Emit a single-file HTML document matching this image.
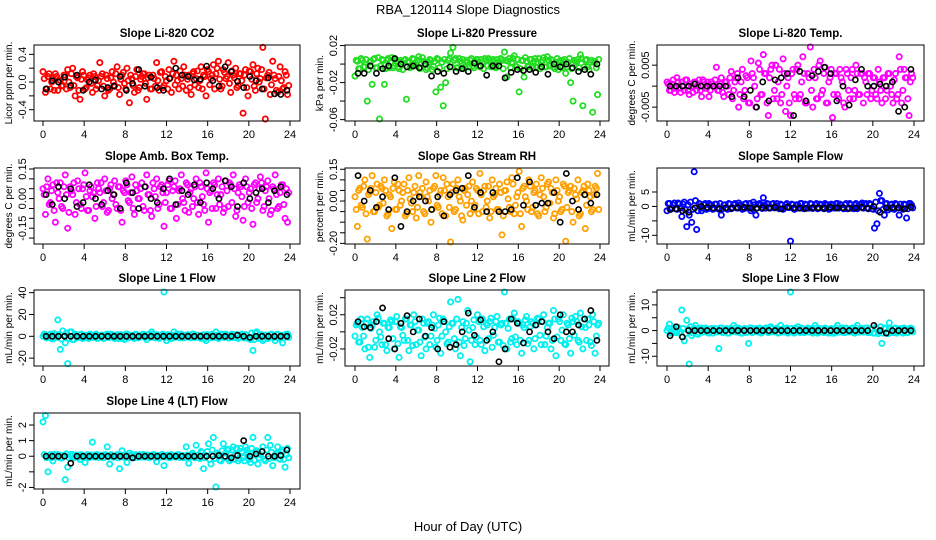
<!DOCTYPE html>
<html><head><meta charset="utf-8"><style>
html,body{margin:0;padding:0;background:#fff}
svg{display:block;font-family:"Liberation Sans",sans-serif}
</style></head><body>
<svg id="chart" width="936" height="540" viewBox="0 0 936 540">
<text x="468" y="14" text-anchor="middle" font-size="13">RBA_120114  Slope Diagnostics</text>
<text x="468" y="531" text-anchor="middle" font-size="13">Hour of Day (UTC)</text>
</svg>
<script>
const xTicks=[0,4,8,12,16,20,24];
const hours=[0,0.24,0.48,0.72,0.96,1.2,1.44,1.68,1.92,2.16,2.4,2.64,2.88,3.12,3.36,3.6,3.84,4.08,4.32,4.56,4.8,5.04,5.28,5.52,5.76,6,6.24,6.48,6.72,6.96,7.2,7.44,7.68,7.92,8.16,8.4,8.64,8.88,9.12,9.36,9.6,9.84,10.08,10.32,10.56,10.8,11.04,11.28,11.52,11.76,12,12.24,12.48,12.72,12.96,13.2,13.44,13.68,13.92,14.16,14.4,14.64,14.88,15.12,15.36,15.6,15.84,16.08,16.32,16.56,16.8,17.04,17.28,17.52,17.76,18,18.24,18.48,18.72,18.96,19.2,19.44,19.68,19.92,20.16,20.4,20.64,20.88,21.12,21.36,21.6,21.84,22.08,22.32,22.56,22.8,23.04,23.28,23.52,23.76];
const hoursAlt=[0.12,0.36,0.6,0.84,1.08,1.32,1.56,1.8,2.04,2.28,2.52,2.76,3,3.24,3.48,3.72,3.96,4.2,4.44,4.68,4.92,5.16,5.4,5.64,5.88,6.12,6.36,6.6,6.84,7.08,7.32,7.56,7.8,8.04,8.28,8.52,8.76,9,9.24,9.48,9.72,9.96,10.2,10.44,10.68,10.92,11.16,11.4,11.64,11.88,12.12,12.36,12.6,12.84,13.08,13.32,13.56,13.8,14.04,14.28,14.52,14.76,15,15.24,15.48,15.72,15.96,16.2,16.44,16.68,16.92,17.16,17.4,17.64,17.88,18.12,18.36,18.6,18.84,19.08,19.32,19.56,19.8,20.04,20.28,20.52,20.76,21,21.24,21.48,21.72,21.96,22.2,22.44,22.68,22.92,23.16,23.4,23.64,23.88];
const blackHours=[0.3,0.9,1.5,2.1,2.7,3.3,3.9,4.5,5.1,5.7,6.3,6.9,7.5,8.1,8.7,9.3,9.9,10.5,11.1,11.7,12.3,12.9,13.5,14.1,14.7,15.3,15.9,16.5,17.1,17.7,18.3,18.9,19.5,20.1,20.7,21.3,21.9,22.5,23.1,23.7];

const co2=[0.15,-0.15,0.08,-0.1,0.05,0.12,-0.12,0.02,-0.05,0.1,0.18,-0.08,0.2,-0.2,0.06,-0.25,0.15,-0.1,0.03,0.1,-0.15,0.08,-0.05,0.28,0.12,-0.2,0.05,-0.1,0.15,-0.05,0.22,-0.18,0.1,-0.02,0.2,-0.3,0.05,-0.15,0.18,-0.08,0.08,0.12,-0.25,0.1,-0.1,0.05,0.28,-0.12,0.15,-0.05,0.02,0.18,-0.15,0.3,0.1,-0.1,0.05,0.22,-0.12,0.1,-0.18,0.15,0.05,-0.08,0.22,0.1,-0.2,0.15,0.05,0.25,0.12,0.3,-0.1,0.18,0.05,0.28,-0.15,0.1,0.2,-0.05,0.12,-0.45,0.18,-0.2,0.15,0.25,-0.12,0.2,0.05,0.5,-0.55,0.1,-0.18,0.3,0.05,-0.15,0.22,-0.1,0.15,-0.18];
const co2Alt=[0.05,-0.1,0.12,0.0,-0.12,0.08,0.03,-0.06,0.1,-0.1,0.0,0.12,-0.05,0.08,-0.12,0.04,0.1,-0.08,0.06,-0.02,0.12,-0.1,0.02,0.08,-0.06,0.1,-0.12,0.06,0.0,0.12,-0.08,0.04,0.14,-0.1,0.02,0.1,-0.05,0.08,-0.12,0.04,0.12,-0.02,0.06,-0.1,0.1,-0.06,0.02,0.14,-0.08,0.08,-0.1,0.06,0.12,-0.04,0.02,0.16,-0.06,0.1,0.04,-0.08,0.12,-0.04,0.16,0.02,-0.1,0.08,0.18,-0.04,0.1,-0.1,0.2,0.04,-0.06,0.14,0.08,-0.02,0.16,0.06,-0.08,0.12,0.02,0.1,-0.08,0.16,0.04,-0.06,0.12,0.0,0.18,-0.1,0.06,0.14,-0.04,0.1,-0.12,0.08,0.02,-0.08,0.1,-0.05];
const co2Black=[-0.1,0.02,0.0,0.07,-0.05,0.1,-0.12,0.0,0.03,-0.1,-0.08,-0.06,0.08,-0.12,-0.02,0.18,-0.06,0.07,-0.08,-0.12,0.05,0.2,0.1,0.08,0.03,0.04,0.23,0.02,-0.06,0.22,0.15,0.01,-0.08,0.08,0.02,-0.1,0.06,-0.17,-0.18,-0.12];
const pres=[-0.013,0.003,-0.005,0.004,-0.003,-0.04,0.002,-0.022,0.006,-0.004,-0.06,0.005,-0.022,0.004,-0.004,0.007,-0.002,0.003,-0.005,0.002,0.004,-0.038,0.003,-0.003,0.005,0.001,0.008,-0.004,0.003,-0.006,0.002,0.004,-0.003,-0.03,0.005,-0.025,-0.045,-0.02,0.004,0.012,0.018,0.006,-0.004,0.003,0.005,-0.003,0.002,0.004,-0.002,0.003,0.005,-0.003,0.002,0.006,-0.002,0.004,0.003,-0.003,0.005,0.002,0.004,0.013,-0.014,0.006,0.002,0.009,-0.003,-0.03,0.004,-0.014,0.003,-0.002,0.005,0.003,-0.004,0.006,0.002,0.007,-0.003,0.004,0.005,-0.003,0.002,-0.006,0.004,0.003,-0.01,0.002,-0.02,-0.04,0.003,0.005,0.01,-0.045,0.004,-0.003,0.002,-0.052,0.003,-0.033];
const presAlt=[0.004,-0.005,0.006,-0.003,0.005,-0.006,0.003,0.005,-0.004,0.007,-0.002,0.004,-0.005,0.006,0.002,-0.004,0.005,-0.003,0.004,-0.006,0.005,0.002,-0.004,0.006,-0.002,0.004,-0.005,0.007,0.0,-0.004,0.005,-0.006,0.003,0.006,-0.004,0.002,0.005,-0.005,0.006,-0.003,0.004,-0.004,0.006,0.001,-0.005,0.004,-0.003,0.006,-0.004,0.005,-0.002,0.005,-0.005,0.004,0.006,-0.003,0.005,-0.004,0.002,0.006,-0.005,0.004,0.003,-0.004,0.006,-0.002,0.005,-0.005,0.004,0.007,-0.003,0.005,-0.004,0.006,0.002,-0.005,0.004,-0.003,0.008,-0.002,0.004,-0.005,0.006,0.003,-0.004,0.005,-0.003,0.006,-0.005,0.004,0.002,-0.004,0.006,-0.003,0.005,-0.006,0.004,0.002,-0.004,0.005];
const presBlack=[-0.01,-0.01,-0.002,-0.01,-0.005,-0.002,0.006,0.0,-0.003,-0.002,-0.004,0.0,-0.013,-0.008,-0.01,-0.003,-0.008,-0.005,-0.008,0.001,-0.002,-0.012,-0.002,-0.002,-0.015,-0.009,-0.006,-0.007,-0.006,-0.009,-0.003,-0.011,0.0,-0.003,0.0,-0.004,-0.008,-0.006,-0.011,0.0];
const liTemp=[0.001,-0.001,0.0005,-0.0015,0.002,-0.0005,0.001,-0.001,0.0015,-0.002,0.0,0.001,-0.001,0.0015,-0.0025,0.001,-0.0005,-0.0025,0.001,0.0,0.0045,-0.001,0.002,-0.0025,0.001,-0.002,0.0035,-0.001,0.002,-0.005,0.001,-0.003,0.0025,-0.004,0.006,0.002,-0.005,0.0055,-0.002,0.0075,0.003,-0.007,0.004,-0.003,0.005,0.001,-0.004,0.0065,-0.006,0.002,-0.007,0.004,-0.003,0.005,-0.002,0.007,-0.004,0.003,0.0095,-0.005,0.002,-0.003,0.006,-0.001,0.0045,-0.004,0.002,-0.0075,0.003,-0.002,0.004,0.001,-0.005,0.003,-0.003,0.004,-0.001,0.003,-0.002,0.003,0.002,-0.002,0.003,-0.001,0.002,-0.003,0.001,-0.004,0.002,-0.001,0.003,-0.002,0.0015,-0.003,0.007,-0.004,0.004,0.002,-0.007,0.003];
const liTempAlt=[0.0005,-0.001,0.0015,-0.0005,0.001,-0.0015,0.0,0.0015,-0.001,0.0005,-0.0015,0.001,0.0,-0.001,0.0015,-0.0005,0.001,-0.001,0.0005,0.0015,-0.001,0.0005,-0.0015,0.001,0.0,0.002,-0.003,0.001,0.003,-0.002,0.004,-0.001,0.002,-0.004,0.003,0.0,-0.003,0.004,-0.002,0.003,-0.004,0.002,0.005,-0.001,-0.003,0.004,-0.002,0.003,0.0,-0.004,0.003,-0.002,0.004,-0.003,0.001,0.003,-0.004,0.002,-0.001,0.004,-0.003,0.005,-0.002,0.003,-0.004,0.001,0.004,-0.002,0.003,-0.003,0.002,-0.004,0.004,-0.001,0.002,-0.003,0.005,-0.002,0.003,-0.004,0.001,0.003,-0.003,0.002,-0.002,0.004,-0.001,0.002,-0.003,0.003,0.0,-0.004,0.003,-0.002,0.004,-0.001,0.002,-0.003,0.001,0.002];
const liTempBlack=[0,0,0,0,0.0005,0,0,0,0,0,-0.0025,0.002,-0.0025,-0.001,-0.005,0.001,-0.0035,0.0015,0.002,0.003,-0.007,0.0035,-0.0035,0.0025,0.0035,0.0045,0.003,-0.0035,0.0,-0.0045,0.0015,0.004,0,0.0,0.0005,0.0,0.001,-0.006,-0.005,0.004];
const ambTemp=[0.05,-0.08,0.1,-0.02,0.07,-0.12,0.03,0.08,-0.05,0.12,-0.15,0.06,0.02,-0.08,0.09,-0.03,0.05,0.13,-0.06,0.04,0.01,-0.1,0.08,0.03,-0.04,0.1,-0.07,0.05,0.0,0.09,-0.05,0.06,-0.12,0.03,0.07,-0.02,0.11,-0.08,0.04,0.0,0.08,-0.06,0.12,0.02,-0.09,0.05,0.1,-0.03,0.07,-0.14,0.03,0.09,-0.05,0.06,-0.1,0.04,0.12,-0.02,0.08,-0.07,0.05,0.0,0.1,-0.08,0.06,-0.03,0.13,-0.12,0.04,0.08,-0.05,0.1,0.02,-0.07,0.09,-0.04,0.07,0.12,-0.09,0.03,0.06,-0.11,0.1,-0.02,0.05,-0.13,0.08,0.0,0.11,-0.06,0.04,0.09,-0.08,0.06,0.12,-0.05,0.03,0.07,-0.1,-0.12];
const ambTempAlt=[0.02,0.06,-0.03,0.04,-0.06,0.08,0.0,-0.04,0.06,0.02,-0.07,0.04,0.08,-0.02,0.05,-0.05,0.07,0.01,-0.06,0.06,0.03,-0.04,0.05,0.08,-0.02,0.04,-0.06,0.07,0.02,-0.03,0.06,-0.06,0.04,0.09,-0.01,0.03,-0.05,0.07,0.0,0.05,-0.04,0.06,0.02,-0.06,0.08,0.01,-0.05,0.06,0.03,-0.02,0.07,-0.05,0.04,0.09,-0.03,0.05,0.0,-0.06,0.07,0.03,-0.04,0.06,-0.02,0.08,0.01,-0.06,0.05,0.03,-0.05,0.07,0.02,-0.03,0.06,-0.05,0.04,0.08,-0.02,0.05,-0.06,0.07,0.01,-0.04,0.06,0.03,-0.05,0.07,-0.02,0.05,0.08,-0.04,0.06,0.0,-0.06,0.05,0.02,-0.04,0.07,-0.03,0.05,0.03];
const ambTempBlack=[0.02,-0.03,0.06,0.0,0.05,-0.04,-0.02,0.07,0.0,-0.03,0.04,0.02,-0.05,0.08,0.03,-0.05,0.06,0.0,-0.02,0.05,0.1,-0.03,0.04,0.02,0.07,-0.02,0.08,0.05,0.0,0.09,0.06,-0.04,0.08,0.0,0.03,0.05,-0.02,0.04,0.06,0.02];
const rh=[0.02,-0.12,0.06,-0.03,0.1,-0.18,0.04,0.12,-0.05,0.08,-0.02,0.06,0.1,-0.07,0.03,-0.13,0.09,-0.04,0.05,0.0,0.08,-0.06,0.11,-0.01,0.04,-0.08,0.12,0.02,-0.05,0.09,0.0,-0.1,0.06,0.12,-0.03,0.05,0.11,-0.07,0.02,-0.2,0.08,-0.04,0.1,0.0,-0.09,0.06,0.03,-0.06,0.09,-0.02,0.05,0.13,-0.05,0.07,0.0,-0.08,0.1,0.03,-0.04,0.08,-0.16,0.05,0.09,-0.03,0.11,-0.06,0.02,0.14,-0.12,0.07,0.0,0.1,-0.05,0.04,0.08,-0.07,0.11,0.02,-0.03,0.09,0.06,-0.08,0.1,0.0,-0.05,0.08,-0.19,0.04,0.07,-0.1,0.03,0.1,-0.06,0.05,-0.13,0.08,0.02,-0.04,0.07,0.13];
const rhAlt=[-0.04,0.05,-0.02,0.07,-0.06,0.03,0.06,-0.05,0.04,-0.03,0.07,-0.01,0.05,-0.06,0.02,0.06,-0.04,0.08,-0.02,0.04,-0.07,0.05,0.01,-0.05,0.07,-0.03,0.04,0.06,-0.06,0.02,0.05,-0.04,0.07,-0.02,0.03,-0.06,0.05,0.08,-0.03,0.04,-0.05,0.06,0.02,-0.07,0.05,-0.02,0.07,0.0,-0.04,0.06,-0.06,0.03,0.05,-0.03,0.07,-0.05,0.02,0.06,-0.04,0.04,-0.07,0.05,0.01,-0.05,0.08,-0.02,0.04,-0.06,0.06,0.02,-0.04,0.07,-0.03,0.05,-0.06,0.03,0.06,-0.05,0.08,-0.01,0.04,-0.06,0.05,0.02,-0.04,0.07,-0.03,0.05,-0.05,0.06,0.01,-0.07,0.04,0.07,-0.02,0.05,-0.05,0.03,0.06,-0.04];
const rhBlack=[0.12,0.0,0.05,-0.03,0.02,-0.04,0.11,-0.12,-0.05,0.0,0.02,0.0,-0.04,0.02,-0.07,0.03,0.05,0.06,0.12,-0.03,0.04,-0.05,0.04,-0.05,-0.05,-0.04,0.11,-0.02,0.09,-0.02,-0.01,-0.01,0.04,-0.1,0.13,0.0,-0.04,0.03,-0.01,0.03];
const sampleFlow=[-1.5,1,-0.5,1.2,-1,0.8,-3.5,1.5,-7,-3,-5.5,12,-8,1,-1.5,0.5,-1,1,0.5,-0.8,0.8,-1,-3,0.5,-0.5,1,-0.8,0.6,-0.5,1.2,0.5,-0.8,1,-0.5,-1.5,1.5,-3,0.8,0.5,3,-0.6,0.8,-0.5,1,0.3,-0.6,0.8,-1,0.5,-0.3,-12,0.6,-0.8,0.5,1,-0.6,0.8,-0.5,1,-0.7,0.5,-0.8,0.8,-0.4,1,0.6,-0.8,0.4,-0.6,1,0.8,-0.5,0.6,-0.8,1,-0.4,0.5,-0.8,0.6,1.2,0.8,-0.5,1,-0.8,-7.5,-6,4.5,2,-3,1,-0.5,0.8,-1,0.6,-3,-0.5,0.8,-4,1,0.5];
const sampleFlowAlt=[1,-1,0.5,-0.8,1.2,-0.5,0.8,-1.2,0.6,1.5,-1,2,-1.5,0.8,-0.6,1,-0.8,0.5,-1,0.8,-0.5,1,-0.8,0.6,-1,0.8,-0.4,1,-0.6,0.5,-1,0.8,-0.5,1,-0.8,0.6,-0.5,1,-0.7,0.5,1,-0.6,0.8,-0.5,1,-0.8,0.5,-0.6,1,-0.4,0.8,-1,0.6,-0.5,1,-0.8,0.5,-0.6,0.8,-0.4,1,-0.6,0.5,-0.8,0.6,-1,0.8,-0.5,1,-0.6,0.5,-0.8,1,-0.5,0.6,-0.8,1,-0.4,0.8,-0.6,1,-0.8,0.6,-1,1.5,-1.5,2,-1,0.8,-1.2,0.6,-0.8,1,-0.5,0.8,-1,0.6,-0.8,1,-0.5];
const sampleFlowBlack=[-1,-0.8,-1.5,-2,-0.5,0,-0.3,-0.5,-0.8,-0.5,-0.6,-0.4,-0.3,-0.5,-0.7,-0.4,-0.5,-0.3,-0.8,-0.2,-0.5,-0.6,-0.7,-0.5,-0.4,-0.6,-0.3,-0.5,-0.4,-0.7,-0.5,-0.3,-0.6,0,-2,-0.5,-0.4,-0.5,-0.8,-0.2];
const line1=[0,1.5,-1,2,-2.5,1,15,-12,5,-6,-25,4,-3,2,-1,1.5,-2,1,0,2,-1,1.5,-2,0.5,1,-1.5,2,-1,1,-2,1.5,0,-2,-3,2,-1,1,-2,1.5,-1,0,1.5,-3,2,4,-1,1.5,-2,1,42,-4,1,-2,4,1.5,-1,2,-1.5,1,0.5,-1.5,2,-1,1,-2,1.5,-4,1,-1.5,1,4,-2,1.5,-1,2,-1.5,1,-1,1.5,-2,1,-1,1.5,-2,-3,-13,3,-1,1.5,-4,1,-2,1.5,-1,-4,2,-1,-6,1,2];
const line1Alt=[2,-1.5,1,-2,2.5,-1,1.5,-2.5,1,3,-2,4,-3,1.5,-1,2,-1.5,1,-2,1.5,-1,2,-1.5,1,-2,1.5,-1,2,-1,1,-2,1.5,-1,2,-1.5,1,-1,2,-1.5,1,2,-1,1.5,-1,2,-1.5,1,-1,2,-1,1.5,-2,1,-1,2,-1.5,1,-1,1.5,-1,2,-1,1,-1.5,1,-2,1.5,-1,2,-1,1,-1.5,2,-1,1,-1.5,2,-1,1.5,-1,2,-1.5,1,-2,3,-3,4,-2,1.5,-2.5,1,-1.5,2,-1,1.5,-2,1,-1.5,2,-1];
const line1Black=[0,0,0,0,0,0,0,0,0,0,0,0,0,0,0,0,0,0,0,0,0,0,0,0,0,0,0,0,0,0,0,1,0,-1,0,0,0,0,0,0];
const line2=[-0.005,0.01,-0.012,0.005,-0.02,0.015,-0.03,0.008,-0.018,0.02,0.0,-0.015,0.01,-0.022,0.005,0.012,-0.02,0.018,-0.03,0.005,-0.01,0.015,-0.022,0.008,0.02,-0.015,0.002,-0.028,0.01,-0.02,0.012,-0.005,0.02,-0.018,0.008,-0.025,0.015,0.0,-0.012,0.035,0.01,-0.02,0.038,-0.028,0.012,-0.008,0.025,-0.035,0.005,-0.015,0.02,-0.01,0.015,-0.022,0.008,0.012,-0.018,0.005,0.018,-0.012,0.01,0.049,-0.02,0.015,-0.008,0.022,-0.015,0.01,-0.025,0.005,0.018,-0.01,0.012,-0.02,0.008,0.015,-0.015,0.02,-0.005,0.01,-0.02,0.025,-0.028,0.015,-0.01,0.02,-0.015,0.008,-0.025,0.012,0.018,-0.01,0.022,-0.02,0.005,0.015,-0.012,0.02,-0.025,0.008];
const line2Alt=[0.008,-0.012,0.015,-0.005,0.01,-0.018,0.004,0.012,-0.01,0.016,-0.006,0.01,-0.015,0.005,0.014,-0.008,0.012,-0.014,0.006,-0.004,0.015,-0.01,0.008,-0.016,0.012,0.002,-0.012,0.015,-0.006,0.01,-0.015,0.008,0.004,-0.01,0.016,-0.005,0.012,-0.014,0.006,0.01,-0.008,0.015,-0.012,0.005,-0.016,0.01,0.002,-0.01,0.014,-0.006,0.012,-0.015,0.006,0.01,-0.008,0.016,-0.004,0.012,-0.012,0.008,-0.016,0.01,0.004,-0.012,0.015,-0.006,0.012,-0.01,0.008,0.014,-0.014,0.006,0.01,-0.008,0.016,-0.004,0.012,-0.015,0.005,0.01,-0.01,0.015,-0.006,0.012,0.002,-0.014,0.01,-0.008,0.016,-0.004,0.012,-0.012,0.006,0.015,-0.01,0.008,-0.016,0.012,-0.005,0.01];
const line2Black=[0.012,0.006,0.005,0.012,0.028,-0.008,-0.02,0.01,0.019,0.0,0.015,-0.005,0.005,-0.02,0.012,-0.018,-0.015,0.0,0.022,-0.004,0.014,-0.01,0.0,-0.035,-0.02,0.015,0.01,-0.013,0.0,0.008,0.012,0.0,-0.008,0.02,0.0,0.0,0.008,0.015,0.025,-0.01];
const line3=[0,2.5,-1,1,-0.5,-1,8,-4,4,-13,-2,1,0.5,-0.8,1,-0.5,0.5,-1,0.8,0,-0.5,-7,1,-0.5,0.8,-1,0.5,2,-0.5,1,-1,0.6,-0.8,-5,1,-0.5,0.8,0.5,-1,0.5,1,-0.8,1.5,-0.5,0.6,-1,2,-0.5,0.8,-1,15,-0.5,1,1.5,-0.8,0.5,-0.6,1,0.5,-1,2,-1,0.8,-0.6,1,-0.5,0.6,-1,-1,2,-0.5,1,-0.8,0.6,-0.5,1,-1,2,-0.6,0.8,-0.5,1,-0.8,0.5,-1,0.6,-0.5,-5,1,-0.8,3,-0.6,0.8,-1,0.5,-0.5,1,-0.8,0.5,0.8];
const line3Alt=[1,-1,0.5,-0.8,1.2,-0.5,0.8,-1.2,0.6,1.5,-1,2,-1.5,0.8,-0.6,1,-0.8,0.5,-1,0.8,-0.5,1,-0.8,0.6,-1,0.8,-0.4,1,-0.6,0.5,-1,0.8,-0.5,1,-0.8,0.6,-0.5,1,-0.7,0.5,1,-0.6,0.8,-0.5,1,-0.8,0.5,-0.6,1,-0.4,0.8,-1,0.6,-0.5,1,-0.8,0.5,-0.6,0.8,-0.4,1,-0.6,0.5,-0.8,0.6,-1,0.8,-0.5,1,-0.6,0.5,-0.8,1,-0.5,0.6,-0.8,1,-0.4,0.8,-0.6,1,-0.8,0.6,-1,1.2,-1.2,1.5,-1,0.8,-1.2,0.6,-0.8,1,-0.5,0.8,-1,0.6,-0.8,1,-0.5];
const line3Black=[-2,1.5,-2.5,0,0,0,0,0,0,0,0,0,0,0,0,0,0,0,0,0,0,0,0,0,0,0,0,0,0,0,0,0,0,2,0,-1,0,0,0,0];
const line4=[2.2,2.6,-1,0.1,-0.3,0.05,0.1,-0.1,0.05,-1.5,-0.7,0.05,0.1,-0.05,0.08,-0.2,0.05,-0.4,0.1,0.05,0.9,-0.05,0.1,-0.05,0.05,0.1,0.6,-0.5,0.05,-0.05,0.1,-0.8,0.35,0.05,-0.4,0.2,0.1,-0.1,0.05,0.1,-0.05,0.1,0.05,-0.1,0.05,0.1,-0.35,0.05,0.1,-0.6,0.05,-0.1,0.1,0.05,-0.05,0.1,0.05,-0.1,0.6,-0.45,0.1,0.05,0.7,-0.1,0.3,-0.8,0.05,0.8,-0.5,1.2,-2,0.1,-0.3,0.8,0.2,0.4,-0.2,0.6,0.1,-0.3,0.5,-0.1,0.6,0.2,-0.4,1.2,0.3,-0.5,0.1,0.6,-0.3,1.2,0.7,-0.6,0.1,0.6,-0.2,0.4,-0.7,0.5];
const line4Alt=[0.1,-0.1,0.05,-0.08,0.12,-0.05,0.08,-0.12,0.06,0.15,-0.1,0.12,-0.1,0.08,-0.06,0.1,-0.08,0.05,-0.1,0.08,-0.05,0.1,-0.08,0.06,-0.1,0.08,-0.04,0.1,-0.06,0.05,-0.1,0.08,-0.05,0.1,-0.08,0.06,-0.05,0.1,-0.07,0.05,0.1,-0.06,0.08,-0.05,0.1,-0.08,0.05,-0.06,0.1,-0.04,0.08,-0.1,0.06,-0.05,0.1,-0.08,0.05,-0.06,0.08,-0.04,0.2,-0.1,0.05,-0.15,0.25,-0.1,0.3,-0.2,0.4,-0.15,0.2,-0.25,0.35,-0.1,0.45,-0.3,0.4,-0.2,0.5,-0.15,0.3,-0.3,0.4,-0.2,0.5,-0.25,0.35,-0.1,0.3,-0.2,0.4,-0.15,0.25,-0.1,0.2,-0.15,0.3,-0.2,0.1,-0.1];
const line4Black=[0,0,0,0,-0.45,0,0,0,0,0,0,0,0,0,-0.1,0,0,0,0,0,0,0,0,0,0,0,0,0,0.05,0,-0.1,0.05,1.0,0,0.15,0.3,0,0,0.05,0.4];

const yTicks1=[-0.4,-0.2,0,0.2,0.4], yLab1=["-0.4","","0.0","","0.4"];
const yTicks2=[-0.06,-0.04,-0.02,0,0.02], yLab2=["-0.06","","-0.02","","0.02"];
const yTicks3=[-0.005,0,0.005], yLab3=["-0.005","","0.005"];
const yTicks4=[-0.2,-0.15,-0.1,-0.05,0,0.05,0.1,0.15], yLab4=["","-0.15","","","0.00","","","0.15"];
const yTicks5=[-0.2,-0.15,-0.1,-0.05,0,0.05,0.1,0.15], yLab5=["-0.20","","","","0.00","","","0.15"];
const yTicks6=[-10,-5,0,5], yLab6=["-10","","0","5"];
const yTicks7=[-20,0,20,40], yLab7=["-20","0","20","40"];
const yTicks8=[-0.02,0,0.02,0.04], yLab8=["-0.02","","0.02",""];
const yTicks9=[-10,-5,0,5,10,15], yLab9=["-10","","0","","10",""];
const yTicks10=[-2,-1,0,1,2], yLab10=["-2","","0","1","2"];

const NS="http://www.w3.org/2000/svg";
const svg=document.getElementById('chart');
const cols=[{bx:34,bw:266,x0:43,x1:290},{bx:345,bw:264,x0:355,x1:600},{bx:657,bw:267,x0:667,x1:914}];
const rows=[45,168,290,413];
const BH=76;
const panels=[
 {t:"Slope Li-820 CO2",ylab:"Licor ppm per min.",c:0,r:0,ymax:0.535,ymin:-0.563,ys:co2,as:co2Alt,bs:co2Black,col:"#ff0000",tk:yTicks1,tl:yLab1},
 {t:"Slope Li-820 Pressure",ylab:"kPa per min.",c:1,r:0,ymax:0.0206,ymin:-0.0615,ys:pres,as:presAlt,bs:presBlack,col:"#22dd22",tk:yTicks2,tl:yLab2},
 {t:"Slope Li-820 Temp.",ylab:"degrees C per min.",c:2,r:0,ymax:0.0098,ymin:-0.0083,ys:liTemp,as:liTempAlt,bs:liTempBlack,col:"#ff00ff",tk:yTicks3,tl:yLab3},
 {t:"Slope Amb. Box Temp.",ylab:"degrees C per min.",c:0,r:1,ymax:0.155,ymin:-0.23,ys:ambTemp,as:ambTempAlt,bs:ambTempBlack,col:"#ff00ff",tk:yTicks4,tl:yLab4},
 {t:"Slope Gas Stream RH",ylab:"percent per min.",c:1,r:1,ymax:0.156,ymin:-0.203,ys:rh,as:rhAlt,bs:rhBlack,col:"#ffa000",tk:yTicks5,tl:yLab5},
 {t:"Slope Sample Flow",ylab:"mL/min per min.",c:2,r:1,ymax:13.3,ymin:-13,ys:sampleFlow,as:sampleFlowAlt,bs:sampleFlowBlack,col:"#0000ff",tk:yTicks6,tl:yLab6},
 {t:"Slope Line 1 Flow",ylab:"mL/min per min.",c:0,r:2,ymax:42.4,ymin:-27.2,ys:line1,as:line1Alt,bs:line1Black,col:"#00f0f0",tk:yTicks7,tl:yLab7},
 {t:"Slope Line 2 Flow",ylab:"mL/min per min.",c:1,r:2,ymax:0.049,ymin:-0.04,ys:line2,as:line2Alt,bs:line2Black,col:"#00f0f0",tk:yTicks8,tl:yLab8},
 {t:"Slope Line 3 Flow",ylab:"mL/min per min.",c:2,r:2,ymax:15.8,ymin:-13.8,ys:line3,as:line3Alt,bs:line3Black,col:"#00f0f0",tk:yTicks9,tl:yLab9},
 {t:"Slope Line 4 (LT) Flow",ylab:"mL/min per min.",c:0,r:3,ymax:2.77,ymin:-2.1,ys:line4,as:line4Alt,bs:line4Black,col:"#00f0f0",tk:yTicks10,tl:yLab10}
];
function mk(tag,attrs,parent){const e=document.createElementNS(NS,tag);for(const k in attrs)e.setAttribute(k,attrs[k]);(parent||svg).appendChild(e);return e;}
function slug(s){return s.toLowerCase().replace(/[^a-z0-9]+/g,'-').replace(/^-|-$/g,'');}
panels.forEach(p=>{
 const C=cols[p.c], top=rows[p.r], bot=top+BH;
 const sx=v=>C.x0+(v-0)*(C.x1-C.x0)/24;
 const sy=v=>top+(p.ymax-v)*BH/(p.ymax-p.ymin);
 const cl=v=>Math.max(top+2,Math.min(bot-2,sy(v)));
 const g=mk('g',{});
 
 
 const tt=mk('text',{x:C.bx+C.bw/2,y:top-8,'text-anchor':'middle','font-size':'11.5','font-weight':'bold'},g);
 tt.textContent=p.t;
 
 
 const pts=mk('g',{},g);
 
 
 p.as.forEach((v,i)=>{
  const c=mk('circle',{cx:sx(hoursAlt[i]),cy:cl(v),r:2.6,fill:'none',stroke:p.col,'stroke-width':1.8},pts);
  
  
 });
 p.ys.forEach((v,i)=>{
  const c=mk('circle',{cx:sx(hours[i]),cy:cl(v),r:2.6,fill:'none',stroke:p.col,'stroke-width':1.8},pts);
  
  
 });
 p.bs.forEach((v,i)=>{
  const c=mk('circle',{cx:sx(blackHours[i]),cy:cl(v),r:2.6,fill:'none',stroke:'#000','stroke-width':1.6},pts);
  
  
 });
 const box=mk('rect',{x:C.bx,y:top,width:C.bw,height:BH,fill:'none',stroke:'#000','stroke-width':1},g);
 
 
 mk('line',{x1:sx(0),x2:sx(24),y1:bot,y2:bot,stroke:'#000'},g);
 xTicks.forEach(v=>{
  mk('line',{x1:sx(v),x2:sx(v),y1:bot,y2:bot+5,stroke:'#000'},g);
  const t=mk('text',{x:sx(v),y:bot+17,'text-anchor':'middle','font-size':'11'},g);
  t.textContent=v;
  
  
 });
 p.tk.forEach((v,i)=>{
  const y=sy(v);
  mk('line',{x1:C.bx-5,x2:C.bx,y1:y,y2:y,stroke:'#000'},g);
  if(p.tl[i]){
   const t=mk('text',{x:C.bx-8,y:y,'text-anchor':'middle','font-size':'11',transform:`rotate(-90 ${C.bx-8} ${y})`},g);
   t.textContent=p.tl[i];
   
   
  }
 });
 const yl=mk('text',{x:C.bx-22,y:top+BH/2,'text-anchor':'middle','font-size':'10',transform:`rotate(-90 ${C.bx-22} ${top+BH/2})`},g);
 yl.textContent=p.ylab;
 
 
});
</script>
</body></html>
